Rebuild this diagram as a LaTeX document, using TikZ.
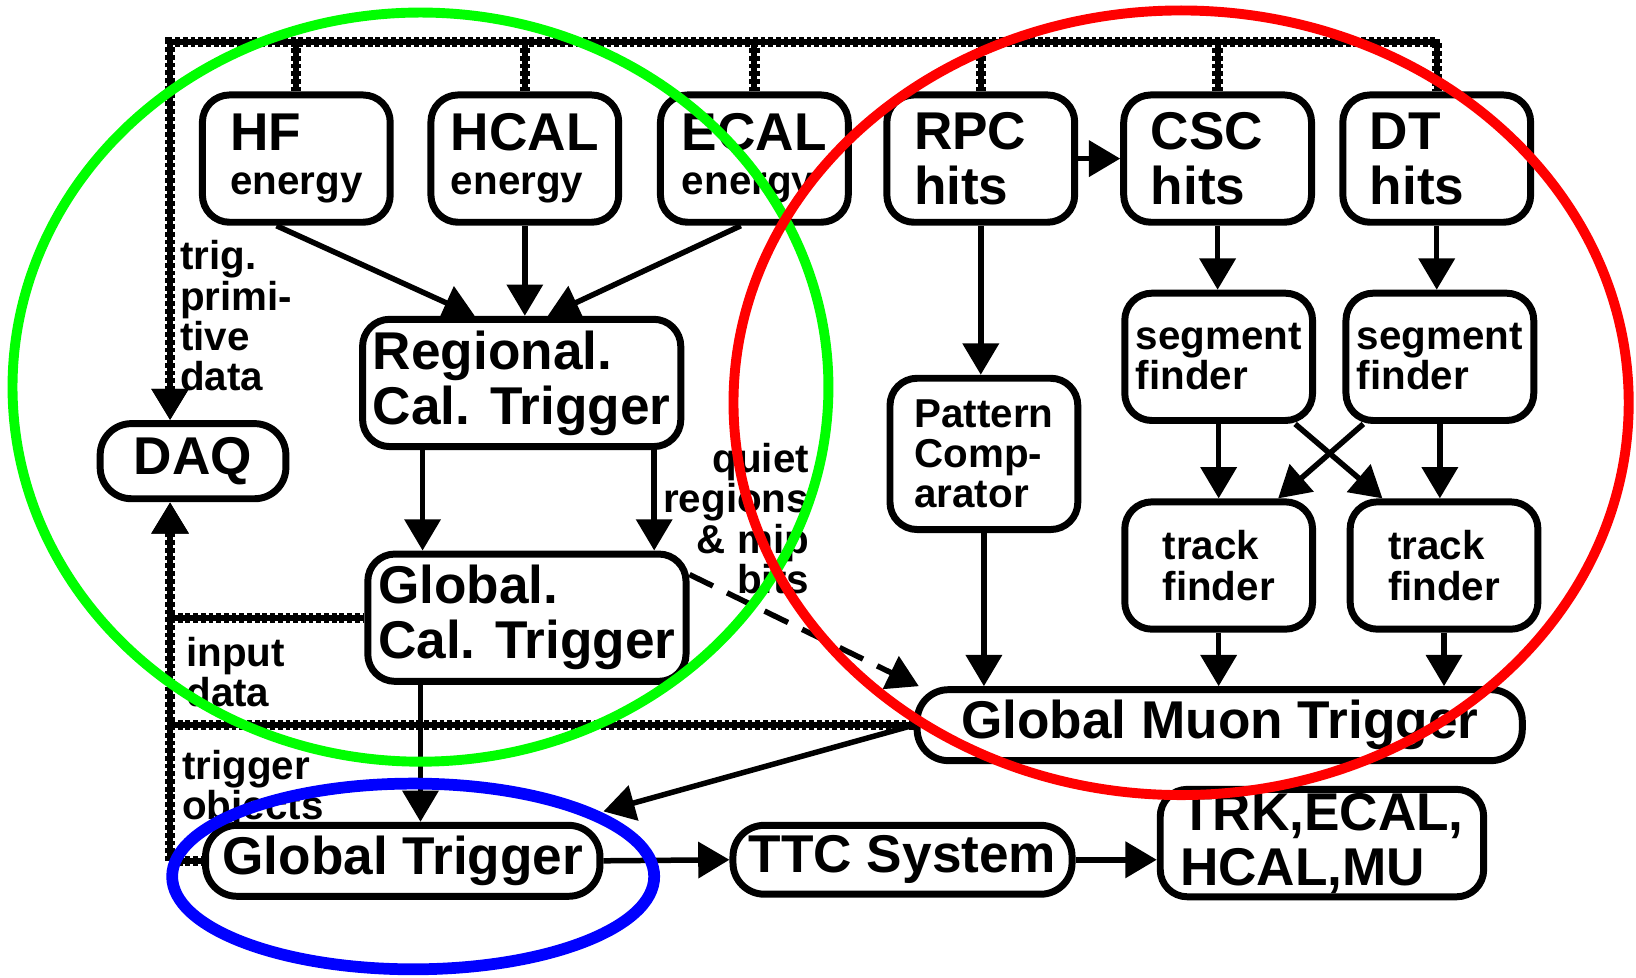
\documentclass[tikz,border=0pt]{standalone}
\usepackage{fontspec}
\setmainfont{Liberation Sans}
\usetikzlibrary{arrows.meta}
\definecolor{ringgreen}{RGB}{0,255,0}
\definecolor{ringred}{RGB}{255,0,0}
\definecolor{ringblue}{RGB}{0,0,255}
\newcommand{\lgsz}{\fontsize{14.5}{15}\selectfont\bfseries}
\newcommand{\smsz}{\fontsize{11}{11}\selectfont\bfseries}
\tikzset{
	blk/.style={draw, line width=1.9pt, rounded corners=0.26cm, align=left, inner sep=0pt,
		minimum width=1.8cm, minimum height=1.22cm, font=\lgsz},
	pill/.style={blk, rounded corners=0.3cm, align=center},
	headtip/.tip={Triangle[length=0.30cm,width=0.34cm]},
	arr/.style={line width=1.5pt, -{headtip}},
	bus/.style={line width=2.8pt, dash pattern=on 1.3pt off 0.8pt,
		preaction={draw, solid, line width=1.7pt}},
	lbl/.style={font=\smsz, align=left, inner sep=0pt}
}

\begin{document}
\begin{tikzpicture}
		%%%%% START %%%%%
		\path[fill=white, use as bounding box] (0,0) rectangle (15.68,-9.37);
		
		% calorimeter side
		\node[blk, font=\smsz] (hf) at (2.84,-1.52) {{\lgsz HF}\\[1pt]energy};
		\node[blk, font=\smsz] (hcal) at (5.03,-1.52) {{\lgsz HCAL}\\[1pt]energy};
		\node[blk, font=\smsz] (ecal) at (7.23,-1.52) {{\lgsz ECAL}\\[1pt]energy};
		\node[blk, minimum width=3.05cm] (rct) at (5.00,-3.67) {Regional.\\Cal. Trigger};
		\node[blk, minimum width=3.05cm] (gct) at (5.05,-5.92) {Global.\\Cal. Trigger};
		\node[pill, minimum width=1.78cm, minimum height=0.72cm] (daq) at (1.85,-4.42) {DAQ};
		
		% muon side
		\node[blk, text width=1.28cm] (rpc) at (9.40,-1.52) {RPC\\hits};
		\node[blk, text width=1.28cm] (csc) at (11.67,-1.52) {CSC\\hits};
		\node[blk, text width=1.28cm] (dt) at (13.77,-1.52) {DT\\hits};
		\node[blk, font=\smsz, minimum height=1.45cm] (pc) at (9.43,-4.35) {Pattern\\Comp-\\arator};
		\node[blk, font=\smsz] (sf1) at (11.68,-3.42) {segment\\finder};
		\node[blk, font=\smsz] (sf2) at (13.80,-3.42) {segment\\finder};
		\node[blk, font=\smsz] (tf1) at (11.68,-5.42) {track\\finder};
		\node[blk, font=\smsz] (tf2) at (13.84,-5.42) {track\\finder};
		\node[pill, minimum width=5.8cm, minimum height=0.68cm] (gmt) at (11.69,-6.95) {Global Muon Trigger};
		
		% bottom row
		\node[pill, minimum width=3.78cm, minimum height=0.68cm] (gt) at (3.86,-8.25) {Global Trigger};
		\node[pill, minimum width=3.25cm, minimum height=0.66cm] (ttc) at (8.65,-8.24) {TTC System};
		\node[blk, minimum width=3.1cm, minimum height=1.03cm] (trk) at (12.67,-8.08) {TRK,ECAL,\\HCAL,MU};
		
		% side labels
		\node[lbl, anchor=north west] (trig) at (1.72,-2.30) {trig.\\primi-\\tive\\data};
		\node[lbl, anchor=north west] (input) at (1.78,-6.10) {input\\data};
		\node[lbl, anchor=north west] (objs) at (1.74,-7.18) {trigger\\objects};
		\node[lbl, anchor=north east, align=right] (quiet) at (7.76,-4.24) {quiet\\regions\\\& mip\\bits};
		
		% readout lines
		\coordinate (bus) at (1.63,-0.40);
		\draw[bus, {headtip}-] (bus |- daq.north) -- (bus) -- (dt.north |- bus) -- (dt.north);
		\foreach \n in {hf,hcal,ecal,rpc,csc}
			\draw[bus] (\n.north) -- (\n.north |- bus);
		\draw[bus, -{headtip}] (bus |- gt.west) -- (bus |- daq.south);
		\draw[bus] (bus |- gt.west) -- (gt.west);
		\draw[bus] (bus |- gct.west) -- (gct.west);
		\draw[bus] (bus |- gmt.west) -- (gmt.west);
		
		% calorimeter trigger path
		\draw[arr] ([xshift=-1.9mm]hf.south) -- ([xshift=-4.5mm]rct.north);
		\draw[arr] (hcal.south) -- (hcal.south |- rct.north);
		\draw[arr] ([xshift=-1.3mm]ecal.south) -- ([xshift=2.5mm]rct.north);
		\draw[arr] ([xshift=-9.5mm]rct.south) -- ([xshift=-9.5mm]rct.south |- gct.north);
		\draw[arr] ([xshift=12.7mm]rct.south) -- ([xshift=12.7mm]rct.south |- gct.north);
		\draw[arr] ([xshift=1.7mm]gt.north |- gct.south) -- ([xshift=1.7mm]gt.north);
		\draw[arr, dash pattern=on 0.25cm off 0.15cm] ([yshift=-2.3mm]gct.north east) -- ([xshift=0.5mm]gmt.north west);
		
		% muon trigger path
		\draw[arr] (rpc.east) -- (rpc.east -| csc.west);
		\draw[arr] (rpc.south) -- (rpc.south |- pc.north);
		\draw[arr] (pc.south) -- (pc.south |- gmt.north);
		\draw[arr] (csc.south) -- (csc.south |- sf1.north);
		\draw[arr] (dt.south) -- (dt.south |- sf2.north);
		\draw[arr] (sf1.south) -- (sf1.south |- tf1.north);
		\draw[arr] (sf2.south) -- (sf2.south |- tf2.north);
		\draw[arr] ([xshift=-2mm]sf1.south east) -- ([xshift=-5.9mm]tf2.north);
		\draw[arr] ([xshift=2mm]sf2.south west) -- ([xshift=5.7mm]tf1.north);
		\draw[arr] (tf1.south) -- (tf1.south |- gmt.north);
		\draw[arr] (tf2.south) -- (tf2.south |- gmt.north);
		
		% global trigger and distribution
		\draw[arr] (gmt.west) -- ([yshift=1mm]gt.north east);
		\draw[arr] (gt.east) -- (ttc.west);
		\draw[arr] (ttc.east) -- (ttc.east -| trk.west);
		
		% rings
		\draw[ringgreen, line width=2.7pt] (4.03,-3.71) ellipse [x radius=3.91, y radius=3.59];
		\draw[ringred, line width=2.7pt] (11.32,-3.86) ellipse [x radius=4.29, y radius=3.76];
		\draw[ringblue, line width=3.2pt] (3.96,-8.40) ellipse [x radius=2.31, y radius=0.89];
		
		%%%%% END %%%%%
\end{tikzpicture}
\end{document}
